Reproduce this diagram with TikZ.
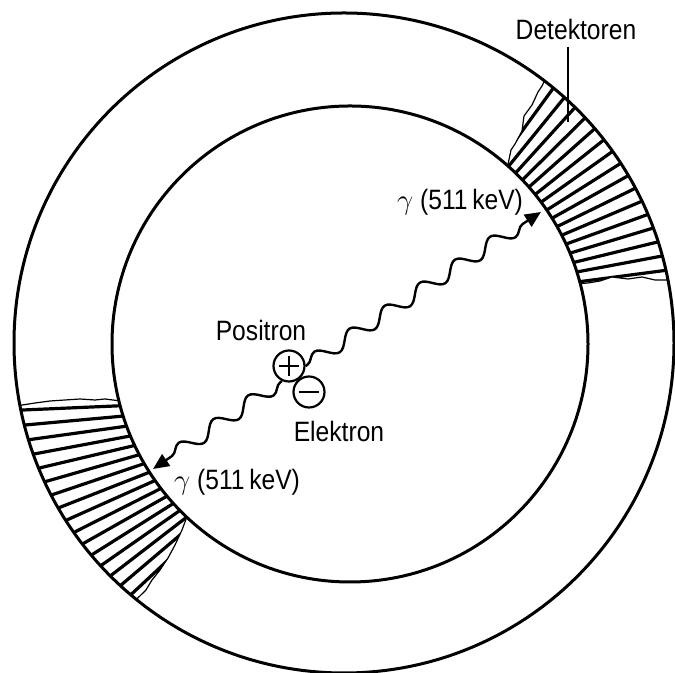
\documentclass[tikz,border=0pt]{standalone}
\usepackage{fontspec}
\setmainfont[FakeStretch=0.88]{Liberation Sans}
\usetikzlibrary{decorations.pathmorphing,arrows.meta,calc}
\begin{document}
\begin{tikzpicture}[x=0.5pt,y=0.5pt,
  ring/.style={line width=1.5pt},
  hatchline/.style={line width=1.6pt},
  torn/.style={line width=0.6pt},
  lbl/.style={font=\fontsize{14}{16}\selectfont, inner sep=0pt},
  particle/.style={circle, draw, line width=1.1pt, fill=white, minimum size=15.5pt, inner sep=0pt},
  photon/.style={line width=1.2pt, decorate, decoration={snake, amplitude=3.6pt, segment length=21pt, pre length=1pt, post length=8pt}},
  tipped/.style={-{Triangle[length=8pt,width=7pt]}}
]
\useasboundingbox (0,0) rectangle (675,673);
\coordinate (O) at (344,330);
\coordinate (I) at (350,329);
\coordinate (Fur) at (395,367);
\coordinate (Fll) at (344,277);

% upper-right detector
\begin{scope}
\clip ($(I)+(48.5:238)$) -- (511,523) -- (515,529) -- (522,542) -- (524,557) -- (532,568) -- (538,581) -- (542,587) -- ($(O)+(52.6:330)$)
  arc[start angle=52.6, end angle=11, radius=330]
  -- (655,393) -- (642,396) -- (628,394) -- (612,396) -- (600,392) -- (588,390) -- ($(I)+(14.7:238)$)
  arc[start angle=14.7, end angle=48.5, radius=238] -- cycle;
\foreach \a in {7.5,10.6,...,62} \draw[hatchline] (Fur) -- ++(\a:420);
\end{scope}
\draw[torn] ($(I)+(48.5:238)$) -- (511,523) -- (515,529) -- (522,542) -- (524,557) -- (532,568) -- (538,581) -- (542,587) -- ($(O)+(52.6:330)$);
\draw[torn] ($(O)+(11:330)$) -- (655,393) -- (642,396) -- (628,394) -- (612,396) -- (600,392) -- (588,390) -- ($(I)+(14.7:238)$);

% lower-left detector
\begin{scope}
\clip ($(O)+(190.9:330)$) -- (35,270) -- (50,272) -- (65,273) -- (80,274) -- (95,273) -- (105,274) -- ($(I)+(193.8:238)$)
  arc[start angle=193.8, end angle=226.7, radius=238]
  -- (182,143) -- (175,128) -- (168,115) -- (160,103) -- (152,93) -- (146,83) -- ($(O)+(231:330)$)
  arc[start angle=231, end angle=190.9, radius=330] -- cycle;
\foreach \a in {182.5,185.2,...,236} \draw[hatchline] (Fll) -- ++(\a:420);
\end{scope}
\draw[torn] ($(O)+(190.9:330)$) -- (35,270) -- (50,272) -- (65,273) -- (80,274) -- (95,273) -- (105,274) -- ($(I)+(193.8:238)$);
\draw[torn] ($(I)+(226.7:238)$) -- (182,143) -- (175,128) -- (168,115) -- (160,103) -- (152,93) -- (146,83) -- ($(O)+(231:330)$);

% rings
\draw[ring] (O) circle[radius=330];
\draw[ring] (I) circle[radius=238];

% particles
\node[particle] (minus) at (309,281) {};
\node[particle] (plus) at (289,307) {};
\draw[line width=1.1pt] ([xshift=-5pt]plus.center) -- ([xshift=5pt]plus.center);
\draw[line width=1.1pt] ([yshift=-5pt]plus.center) -- ([yshift=5pt]plus.center);
\draw[line width=1.1pt] ([xshift=-5pt]minus.center) -- ([xshift=5pt]minus.center);

% photons
\coordinate (gu) at (541,461);
\coordinate (gl) at (153,204);
\draw[photon, tipped] (plus.east) -- (gu);
\draw[photon, tipped] (plus.-115) -- (gl);

% labels
\node[lbl] (pos) at (261,342) {Positron};
\node[lbl] (ele) at (339,241) {Elektron};
\node[lbl] (g1) at (460,471) {$\gamma$ (511\,keV)};
\node[lbl] (g2) at (237,191) {$\gamma$ (511\,keV)};
\node[lbl] (det) at (576,643) {Detektoren};
\coordinate (detp) at (568,551);
\draw[line width=0.7pt, shorten <=3pt] (det.south -| detp) -- (detp);
\end{tikzpicture}
\end{document}
